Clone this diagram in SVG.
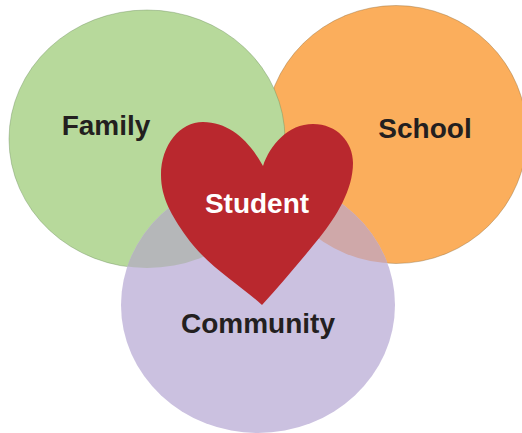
<svg xmlns="http://www.w3.org/2000/svg" width="522" height="433" viewBox="0 0 522 433">
<defs>
<clipPath id="cf"><ellipse cx="147" cy="139" rx="138" ry="129"/></clipPath>
<clipPath id="cs"><ellipse cx="396" cy="134.500" rx="131" ry="129"/></clipPath>
</defs>
<style>
.c{stroke-width:.4}
text{font-family:"Liberation Sans",Arial,sans-serif;font-weight:700;font-size:28px;text-anchor:middle;fill:#231f20}
</style>
<rect width="522" height="433" fill="#fff"/>
<g id="school"><ellipse class="c" cx="396" cy="134.500" rx="131" ry="129" fill="#fbae5c" stroke="#8a6a3a"/></g>
<g id="family"><ellipse class="c" cx="147" cy="139" rx="138" ry="129" fill="#b7d99b" stroke="#6a8a5a"/></g>
<g id="community"><ellipse cx="258" cy="305" rx="137" ry="128" fill="#cbc1e0"/>
<ellipse cx="258" cy="305" rx="137" ry="128" fill="#b5b7b9" clip-path="url(#cf)"/>
<ellipse cx="258" cy="305" rx="137" ry="128" fill="#cfa8a9" clip-path="url(#cs)"/></g>
<text x="106" y="135">Family</text>
<text x="425" y="138">School</text>
<text x="258" y="333">Community</text>
<g id="student"><path d="M262 305C240 285 206 265 186 236C172 216 161 198 161 175C161 145 180 122 203 122C230 122 250 142 263 166C270 145 288 124 313 124C337 124 353 142 353 163C353 190 336 217 320 237C300 262 280 285 262 305Z" fill="#b9282e"/><text x="257" y="213" style="fill:#fff">Student</text></g>
</svg>
